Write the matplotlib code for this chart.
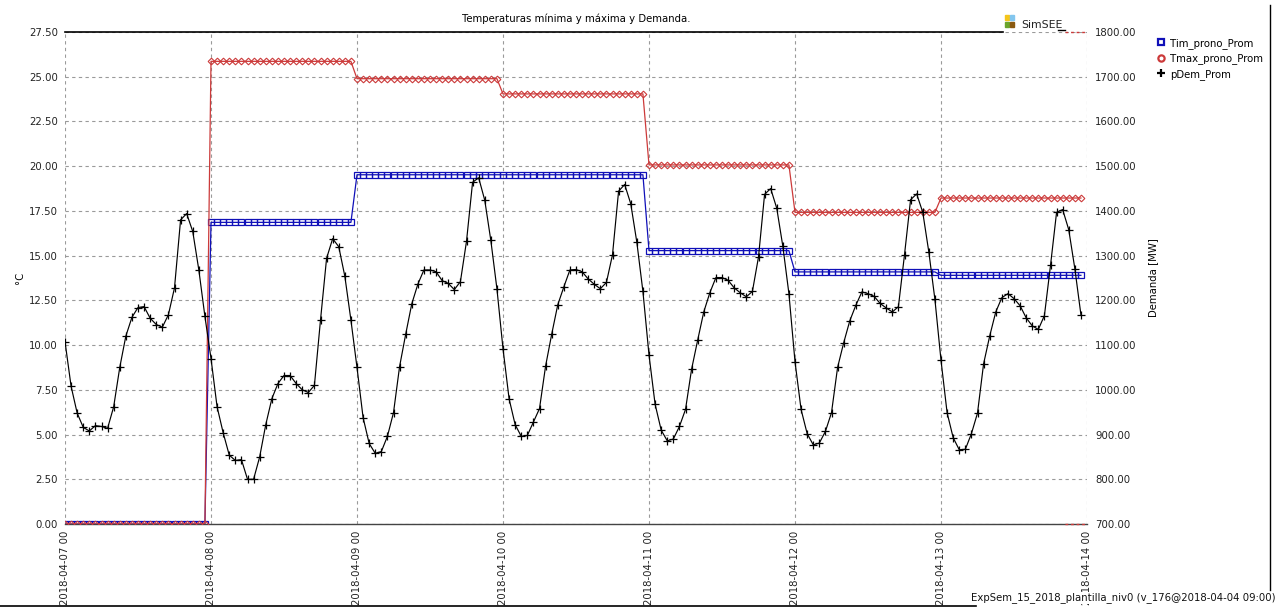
import numpy as np
import pandas as pd
import matplotlib
matplotlib.use("Agg")
import matplotlib.pyplot as plt
from matplotlib.lines import Line2D
from matplotlib.patches import Rectangle

# ---------------- data ----------------
start = "2018-04-07 00:00"
day_ticks = pd.date_range("2018-04-07", "2018-04-14", freq="D")
tick_labels = [d.strftime("%Y-%m-%d %H") for d in day_ticks]

# daily forecast temperatures (°C), constant within each day
tmin_daily = [0.0, 16.86, 19.52, 19.52, 15.28, 14.09, 13.90]
tmax_daily = [0.0, 25.86, 24.89, 24.04, 20.07, 17.42, 18.22]

# hourly demand (MW)
dem_apr07 = [1108, 1008, 948, 916, 908, 920, 918, 914, 962, 1050, 1120, 1162,
             1184, 1186, 1160, 1146, 1140, 1168, 1228, 1380, 1394, 1354, 1268, 1164]
dem_apr08 = [1070, 962, 904, 854, 842, 844, 800, 800, 850, 922, 980, 1014,
             1032, 1032, 1014, 1000, 994, 1010, 1156, 1294, 1338, 1320, 1254, 1156]
dem_apr09 = [1050, 938, 880, 858, 862, 896, 949, 1052, 1124, 1192, 1236, 1268,
             1268, 1264, 1244, 1238, 1224, 1242, 1332, 1464, 1474, 1424, 1334, 1226]
dem_apr10 = [1092, 980, 922, 896, 898, 928, 958, 1053, 1124, 1190, 1230, 1268,
             1269, 1264, 1248, 1236, 1226, 1240, 1302, 1444, 1459, 1416, 1330, 1220]
dem_apr11 = [1078, 968, 910, 886, 890, 918, 956, 1046, 1111, 1174, 1217, 1251,
             1251, 1245, 1228, 1217, 1208, 1220, 1297, 1437, 1450, 1406, 1321, 1215]
dem_apr12 = [1063, 956, 902, 877, 881, 907, 949, 1050, 1105, 1154, 1189, 1219,
             1215, 1209, 1193, 1183, 1174, 1186, 1302, 1425, 1438, 1397, 1308, 1202]
dem_apr13 = [1066, 949, 893, 866, 867, 902, 948, 1058, 1120, 1174, 1206, 1215,
             1204, 1188, 1161, 1143, 1135, 1166, 1278, 1397, 1403, 1358, 1271, 1168]

demand = np.array(dem_apr07 + dem_apr08 + dem_apr09 + dem_apr10 +
                  dem_apr11 + dem_apr12 + dem_apr13, dtype=float)
hours = pd.date_range(start, periods=len(demand), freq="h")
tmin = np.repeat(tmin_daily, 24)
tmax = np.repeat(tmax_daily, 24)

left_ticks = np.arange(0, 27.51, 2.5)
right_ticks = np.arange(700, 1800.1, 100)

# ---------------- figure ----------------
plt.rcParams["font.family"] = ["DejaVu Sans"]
W, H = 1279, 608
fig = plt.figure(figsize=(W / 100, H / 100), dpi=100)
fig.patch.set_facecolor("white")

def fx(px):
    return px / W

def fy(py):
    return 1 - py / H

ax = fig.add_axes([fx(65), fy(524), fx(1087) - fx(65), fy(32) - fy(524)])
ax2 = ax.twinx()

BLUE = "#1010b8"
RED = "#cc3a3a"
FS = 7.3

ax.plot(hours, tmin, color=BLUE, lw=0.9, marker="s", ms=3.8, mfc="none",
        mec=BLUE, mew=0.9, zorder=3)
ax.plot(hours, tmax, color=RED, lw=0.9, marker="D", ms=3.4, mfc="none",
        mec=RED, mew=0.8, zorder=3)
ax2.plot(hours, demand, color="black", lw=0.85, marker="+", ms=5.5, mew=0.9,
         zorder=4)

ax.set_xlim(day_ticks[0], day_ticks[-1])
ax.set_ylim(0, 27.5)
ax2.set_ylim(700, 1800)

ax.set_yticks(left_ticks)
ax.set_yticklabels([f"{v:.2f}" for v in left_ticks], fontsize=FS)
ax2.set_yticks(right_ticks)
ax2.set_yticklabels([f"{v:.2f}" for v in right_ticks], fontsize=FS)
ax.set_xticks(day_ticks)
ax.set_xticklabels(tick_labels, rotation=90, fontsize=FS, va="top", ha="center")

ax.tick_params(axis="both", length=0, pad=5, colors="#222222")
ax2.tick_params(axis="y", length=0, pad=6, colors="#222222")

ax.grid(True, color="#9a9a9a", linestyle=(0, (3, 3)), lw=0.8)
ax.set_axisbelow(True)

for a in (ax, ax2):
    for s in ("left", "right", "top", "bottom"):
        a.spines[s].set_visible(False)
ax.spines["bottom"].set_visible(True)
ax.spines["bottom"].set_color("#444444")
ax.spines["bottom"].set_linewidth(1.0)

# top border line (interrupted by logo)
top_end = (1003 - 65) / (1087 - 65)
ax.plot([0, top_end], [1, 1], transform=ax.transAxes, color="black", lw=1.2,
        clip_on=False, zorder=5)
ax.plot([(1058 - 65) / 1022, (1065 - 65) / 1022], [1.004, 1.004],
        transform=ax.transAxes, color="black", lw=1.0, clip_on=False)
ax.plot([(1065 - 65) / 1022, 1.0], [1, 1], transform=ax.transAxes,
        color=RED, lw=1.0, ls=(0, (2, 2)), clip_on=False)
ax.plot([(1065 - 65) / 1022, 1.0], [0, 0], transform=ax.transAxes,
        color=RED, lw=1.0, ls=(0, (2, 2)), clip_on=False, zorder=6)

# logo squares
for (px, py, col) in [(1005, 15, "#f5c519"), (1010, 15, "#83c6ee"),
                      (1005, 22, "#6aa52b"), (1010, 22, "#8a5a10")]:
    fig.patches.append(Rectangle((fx(px), fy(py + 5)), fx(5) - 0.0005, 5 / H - 0.0005,
                                 transform=fig.transFigure, color=col))
fig.text(fx(1021), fy(25), "SimSEE", fontsize=7.8, va="center", ha="left",
         color="#222222")

ax.set_title("Temperaturas mínima y máxima y Demanda.", fontsize=FS, pad=7)
ax.set_ylabel("°C", fontsize=FS, labelpad=3)
ax2.set_ylabel("Demanda [MW]", fontsize=FS, labelpad=8)

# legend
handles = [Line2D([], [], ls="none", marker="s", ms=4.5, mfc="none", mec=BLUE, mew=1.6),
           Line2D([], [], ls="none", marker="o", ms=4.5, mfc="none", mec=RED, mew=1.6),
           Line2D([], [], ls="none", marker="+", ms=6, mec="black", mew=1.6)]
fig.legend(handles, ["Tim_prono_Prom", "Tmax_prono_Prom", "pDem_Prom"],
           loc="upper left", bbox_to_anchor=(fx(1157), fy(38)), frameon=False,
           fontsize=FS, handlelength=0.8, handletextpad=0.5, labelspacing=0.45,
           borderaxespad=0, borderpad=0)

# footer (drawn over the last tick label, as in the source)
fig.text(fx(1276), fy(598), "ExpSem_15_2018_plantilla_niv0 (v_176@2018-04-04 09:00)",
         fontsize=FS, ha="right", va="center", color="#111111", zorder=10,
         bbox=dict(facecolor="white", edgecolor="none", pad=0.5))
fig.add_artist(Line2D([0, fx(976)], [fy(606), fy(606)], color="black", lw=1.2))
fig.add_artist(Line2D([fx(1270), fx(1270)], [fy(5), fy(590)], color="black", lw=1.0))

fig.savefig("out.png", dpi=100, facecolor="white")
